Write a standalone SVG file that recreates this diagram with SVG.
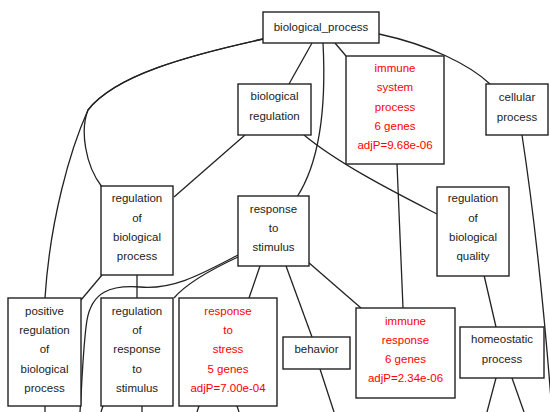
<svg xmlns="http://www.w3.org/2000/svg" width="550" height="412" viewBox="0 0 550 412">
<style>
.box{fill:#fff;stroke:#222;stroke-width:1.4}
.e{fill:none;stroke:#222;stroke-width:1.3}
text{font-family:"Liberation Sans",Arial,sans-serif;font-size:11.5px;text-anchor:middle;fill:#222}
.sig text{fill:#ff0000}
</style>
<rect x="0" y="0" width="550" height="412" fill="#fff"/>
<g id="edges">
<path class="e" d="M312,43 L289,84"/>
<path class="e" d="M323,43 C326,100 321,160 297,197"/>
<path class="e" d="M335,43 L346,56"/>
<path class="e" d="M379,34 C430,45 470,65 490,84"/>
<path class="e" d="M263,39 C190,55 115,75 88,110 C80,130 85,165 102,187"/>
<path class="e" d="M263,39 C190,55 115,75 88,110 C70,150 50,220 45,298"/>
<path class="e" d="M245,135 L174,197"/>
<path class="e" d="M304,135 C340,165 400,195 437,214"/>
<path class="e" d="M397,164 L403,308"/>
<path class="e" d="M522,135 C535,220 545,320 552,412"/>
<path class="e" d="M137,275 L137,298"/>
<path class="e" d="M102,275 L81,300"/>
<path class="e" d="M238,255 C205,272 175,290 140,287 C110,285 92,292 87,320 C83,345 82,385 80,412"/>
<path class="e" d="M238,257 C210,270 185,285 174,298"/>
<path class="e" d="M260,266 L249,298"/>
<path class="e" d="M286,266 L312,337"/>
<path class="e" d="M308,262 L361,308"/>
<path class="e" d="M484,275 L496,327"/>
<path class="e" d="M45,406 L45,412"/>
<path class="e" d="M103,406 L101,412"/>
<path class="e" d="M142,406 L142,412"/>
<path class="e" d="M199,406 L197,412"/>
<path class="e" d="M237,406 L239,412"/>
<path class="e" d="M320,369 L334,412"/>
<path class="e" d="M496,378 L487,412"/>
<path class="e" d="M512,378 L524,412"/>
</g>
<g id="biological_process"><rect class="box" x="263" y="12" width="116" height="31"/><text x="321" y="31">biological_process</text></g>
<g id="biological_regulation"><rect class="box" x="238" y="84" width="73" height="51"/><text x="274.5" y="100">biological</text><text x="274.5" y="120">regulation</text></g>
<g id="immune_system_process" class="sig"><rect class="box" x="346" y="56" width="98" height="108"/><text x="395" y="71.5">immune</text><text x="395" y="91">system</text><text x="395" y="110.5">process</text><text x="395" y="129.5">6 genes</text><text x="395" y="149">adjP=9.68e-06</text></g>
<g id="cellular_process"><rect class="box" x="486" y="84" width="62" height="51"/><text x="517" y="101">cellular</text><text x="517" y="120.5">process</text></g>
<g id="regulation_of_biological_process"><rect class="box" x="101" y="186" width="72" height="89"/><text x="137" y="202">regulation</text><text x="137" y="222">of</text><text x="137" y="241">biological</text><text x="137" y="260">process</text></g>
<g id="response_to_stimulus"><rect class="box" x="238" y="196" width="71" height="70"/><text x="273.5" y="212.5">response</text><text x="273.5" y="231.5">to</text><text x="273.5" y="251">stimulus</text></g>
<g id="regulation_of_biological_quality"><rect class="box" x="437" y="187" width="72" height="89"/><text x="473" y="202">regulation</text><text x="473" y="222">of</text><text x="473" y="241">biological</text><text x="473" y="260">quality</text></g>
<g id="positive_regulation_of_biological_process"><rect class="box" x="8" y="298" width="73" height="108"/><text x="44.5" y="315">positive</text><text x="44.5" y="334">regulation</text><text x="44.5" y="353">of</text><text x="44.5" y="372.5">biological</text><text x="44.5" y="391.5">process</text></g>
<g id="regulation_of_response_to_stimulus"><rect class="box" x="101" y="298" width="72" height="108"/><text x="137" y="315">regulation</text><text x="137" y="334">of</text><text x="137" y="353">response</text><text x="137" y="372.5">to</text><text x="137" y="391.5">stimulus</text></g>
<g id="response_to_stress" class="sig"><rect class="box" x="179" y="298" width="98" height="108"/><text x="228" y="315">response</text><text x="228" y="334">to</text><text x="228" y="353">stress</text><text x="228" y="372.5">5 genes</text><text x="228" y="391.5">adjP=7.00e-04</text></g>
<g id="behavior"><rect class="box" x="283" y="337" width="67" height="32"/><text x="316.5" y="353">behavior</text></g>
<g id="immune_response" class="sig"><rect class="box" x="356" y="308" width="99" height="90"/><text x="405.5" y="325">immune</text><text x="405.5" y="344">response</text><text x="405.5" y="362.5">6 genes</text><text x="405.5" y="381.5">adjP=2.34e-06</text></g>
<g id="homeostatic_process"><rect class="box" x="460" y="327" width="84" height="51"/><text x="502" y="343">homeostatic</text><text x="502" y="362.5">process</text></g>
</svg>
